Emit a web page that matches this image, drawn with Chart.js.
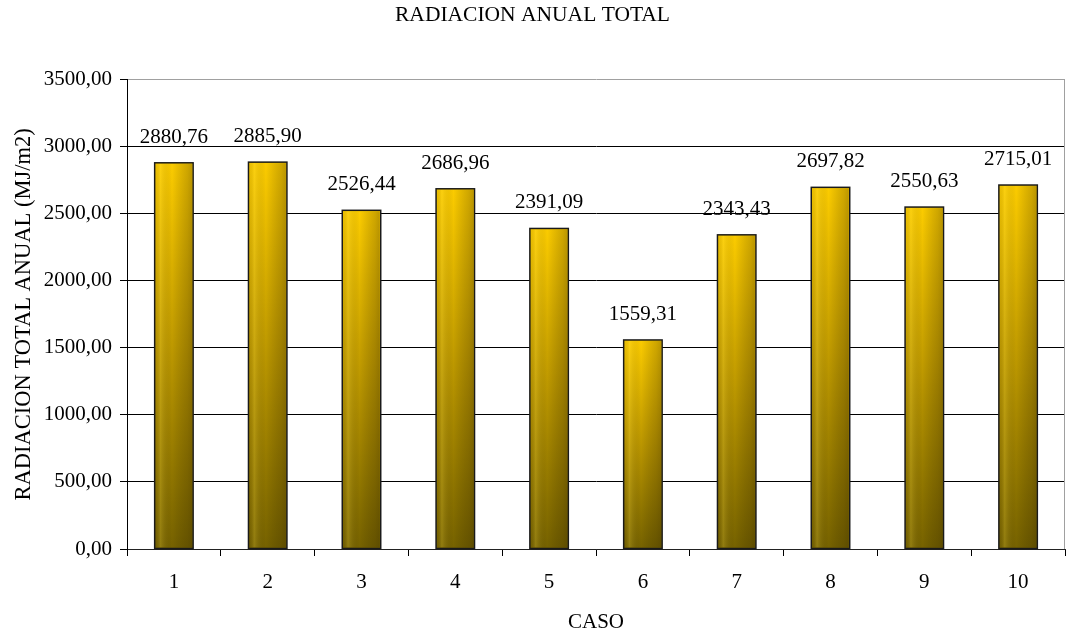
<!DOCTYPE html>
<html>
<head>
<meta charset="utf-8">
<script src="https://cdn.jsdelivr.net/npm/chart.js@4.4.1/dist/chart.umd.min.js"></script>
<style>
  html, body { margin: 0; padding: 0; background: #fff; }
  #wrap { width: 1067px; height: 635px; }
</style>
</head>
<body>
<div id="wrap"><canvas id="myChart" width="1067" height="635"></canvas></div>
<script>
var casos = ["1", "2", "3", "4", "5", "6", "7", "8", "9", "10"];
var radiacion = [2880.76, 2885.90, 2526.44, 2686.96, 2391.09, 1559.31, 2343.43, 2697.82, 2550.63, 2715.01];
var yTicks = [0, 500, 1000, 1500, 2000, 2500, 3000, 3500];

var FONT = "'Liberation Serif', 'Times New Roman', serif";
var SIZE = 21;

function coma(v) {
    return v.toFixed(2).replace('.', ',');
}

// relleno vertical amarillo -> oliva, desde la parte alta de cada barra
function barFill(context) {
    var chart = context.chart;
    var area = chart.chartArea;
    if (!area) return '#d4a800';
    var top = chart.scales.y.getPixelForValue(context.parsed ? context.parsed.y : 0);
    var g = chart.ctx.createLinearGradient(0, top, 0, area.bottom);
    g.addColorStop(0, '#fccc00');
    g.addColorStop(0.45, '#c29c00');
    g.addColorStop(1, '#766200');
    return g;
}

// sombreado lateral y etiquetas de valor
var extras = {
    id: 'extras',
    afterDatasetsDraw: function (chart) {
        var ctx = chart.ctx;
        var meta = chart.getDatasetMeta(0);
        ctx.save();
        meta.data.forEach(function (bar, i) {
            var left = bar.x - bar.width / 2;
            var right = bar.x + bar.width / 2;
            var g = ctx.createLinearGradient(left, 0, right, 0);
            g.addColorStop(0, 'rgba(0,0,0,0.05)');
            g.addColorStop(0.15, 'rgba(255,230,80,0.2)');
            g.addColorStop(0.45, 'rgba(0,0,0,0)');
            g.addColorStop(0.85, 'rgba(30,20,0,0.2)');
            g.addColorStop(1, 'rgba(30,20,0,0.3)');
            ctx.fillStyle = g;
            ctx.fillRect(left + 1, bar.y + 1, bar.width - 2, bar.base - bar.y - 2);
            ctx.strokeStyle = '#1a1a1a';
            ctx.lineWidth = 1.5;
            ctx.strokeRect(left, bar.y, bar.width, bar.base - bar.y);

            ctx.fillStyle = '#000';
            ctx.font = SIZE + "px " + FONT;
            ctx.textAlign = 'center';
            ctx.textBaseline = 'alphabetic';
            ctx.fillText(coma(radiacion[i]), bar.x, bar.y - 20);
        });
        // borde derecho del área
        var a = chart.chartArea;
        ctx.strokeStyle = '#a0a0a0';
        ctx.lineWidth = 1;
        ctx.beginPath();
        ctx.moveTo(a.right - 0.5, a.top);
        ctx.lineTo(a.right - 0.5, a.bottom);
        ctx.stroke();
        ctx.restore();
    }
};

var ctx = document.getElementById("myChart").getContext('2d');
var myChart = new Chart(ctx, {
    type: 'bar',
    data: {
        labels: casos,
        datasets: [{
            label: 'Radiacion',
            data: radiacion,
            backgroundColor: barFill,
            borderWidth: 0,
            barPercentage: 0.41,
            categoryPercentage: 1
        }]
    },
    plugins: [extras],
    options: {
        responsive: false,
        animation: false,
        layout: { padding: { left: 0, right: 2, top: 0, bottom: 0 } },
        plugins: {
            legend: { display: false },
            tooltip: { enabled: false },
            title: {
                display: true,
                text: 'RADIACION ANUAL TOTAL',
                color: '#000',
                font: { family: FONT, size: 21.5, weight: 'normal' },
                padding: { top: 2, bottom: 52 }
            }
        },
        scales: {
            x: {
                grid: {
                    offset: true,
                    drawOnChartArea: false,
                    color: '#000',
                    tickLength: 7
                },
                border: { color: '#222', width: 1 },
                ticks: {
                    color: '#000',
                    padding: 14,
                    maxRotation: 0,
                    font: { family: FONT, size: SIZE }
                },
                title: {
                    display: true,
                    text: 'CASO',
                    color: '#000',
                    font: { family: FONT, size: SIZE },
                    padding: { top: 0, bottom: 0 }
                },
                afterFit: function (scale) { scale.height = 86; }
            },
            y: {
                min: 0,
                max: 3500,
                afterBuildTicks: function (scale) {
                    scale.ticks = yTicks.map(function (v) { return { value: v }; });
                },
                grid: {
                    color: function (c) { return c.tick && c.tick.value === 3500 ? '#a0a0a0' : '#000'; },
                    tickColor: '#000',
                    tickLength: 7
                },
                border: { color: '#000', width: 1 },
                ticks: {
                    color: '#000',
                    padding: 8,
                    font: { family: FONT, size: SIZE },
                    callback: function (v) { return coma(v); }
                },
                title: {
                    display: true,
                    text: 'RADIACION TOTAL ANUAL (MJ/m2)',
                    color: '#000',
                    font: { family: FONT, size: 22.5 },
                    padding: { top: 11, bottom: 0 }
                },
                afterFit: function (scale) { scale.width = 127; }
            }
        }
    }
});
</script>
</body>
</html>
